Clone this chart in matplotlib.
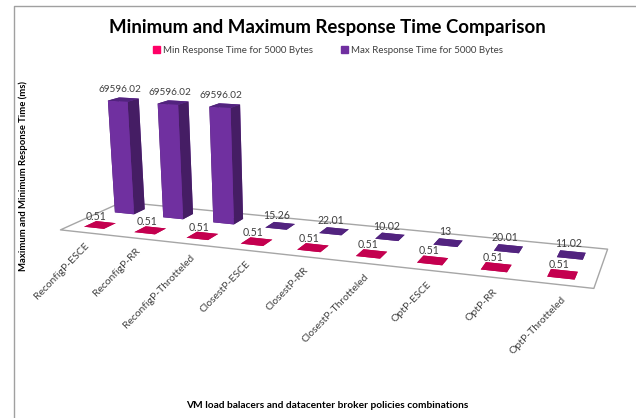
import matplotlib
matplotlib.use("Agg")
import numpy as np
import matplotlib.pyplot as plt
from matplotlib.lines import Line2D
from matplotlib.patches import Patch
from mpl_toolkits.mplot3d import proj3d
from mpl_toolkits.mplot3d.art3d import Poly3DCollection

plt.rcParams['font.family'] = ['Lato', 'DejaVu Sans']

# Response times per policy combination (ms)
policies = ["ReconfigP-ESCE", "ReconfigP-RR", "ReconfigP-Throtteled",
            "ClosestP-ESCE", "ClosestP-RR", "ClosestP-Throtteled",
            "OptP-ESCE", "OptP-RR", "OptP-Throtteled"]
min_time = [0.51, 0.51, 0.51, 0.51, 0.51, 0.51, 0.51, 0.51, 0.51]
max_time = [69596.02, 69596.02, 69596.02, 15.26, 22.01, 10.02, 13, 20.01, 11.02]
min_labels = ["0.51"] * 9
max_labels = ["69596.02", "69596.02", "69596.02", "15.26", "22.01", "10.02", "13", "20.01", "11.02"]

W, H = 636, 418
fig = plt.figure(figsize=(W / 100, H / 100), dpi=100)

# square 3D axes larger than the figure, so the view centre sits low on the page
side = 818.8
left, bottom = -92.1, -235.4
ax = fig.add_axes([left / W, bottom / H, side / W, side / H], projection='3d')
ax.set_proj_type('persp', focal_length=0.2316)
ax.view_init(elev=16.34, azim=-69.92, roll=0.11)
ax.set_xlim(4.07 - 6, 4.07 + 6, view_margin=0)
ax.set_ylim(0.529 - 3, 0.529 + 3, view_margin=0)
ax.set_zlim(3640 - 69596, 3640 + 69596, view_margin=0)
ax.set_box_aspect((12, 6.0825, 4.1158))
ax.set_axis_off()
ax.patch.set_alpha(0)
ax.computed_zorder = False

# floor of the chart
floor = Poly3DCollection([[(-0.5, -0.47, 0), (8.5, -0.47, 0), (8.5, 1.53, 0), (-0.5, 1.53, 0)]],
                         facecolor='white', edgecolor='#a6a6a6', linewidth=1, zorder=1)
ax.add_collection3d(floor)

x = np.arange(len(policies))
w = 0.40
d = 0.38
# face order in bar3d: bottom, top, front, back, left, right
pink = ['#c4004f', '#c4004f', '#e0005a', '#e0005a', '#90003c', '#90003c']
purple = ['#52237f', '#52237f', '#7030a0', '#7030a0', '#451d64', '#451d64']
ax.bar3d(x - w / 2, np.full(9, 1.0) - d / 2, 0, w, d, max_time, color=purple * 9, shade=False, zorder=2)
ax.bar3d(x - w / 2, np.full(9, 0.0) - d / 2, 0, w, d, min_time, color=pink * 9, shade=False, zorder=3)


def label_at(xd, yd, zd, s, **kw):
    # project a data point to the 2D plane and write the text there
    px, py, _ = proj3d.proj_transform(xd, yd, zd, ax.get_proj())
    ax.text2D(px, py, s, transform=ax.transData, color='#404040', zorder=5, **kw)


for i in range(9):
    label_at(x[i] - 0.06, 0, min_time[i] + 5000, min_labels[i], fontsize=7.6, ha='center', va='center')
    size = 7.2 if max_time[i] > 1000 else 7.6
    label_at(x[i] - 0.06, 1, max_time[i] + 6000, max_labels[i], fontsize=size, ha='center', va='center')
    label_at(x[i] + 0.12, -0.6, -5400, policies[i], fontsize=7.5, rotation=46, ha='right', va='center',
             rotation_mode='anchor')

fig.text(327 / W, 1 - 27 / H, "Minimum and Maximum Response Time Comparison", fontsize=13.4,
         fontweight='bold', ha='center', va='center', color='black')
fig.text(327 / W, 1 - 405 / H, "VM load balacers and datacenter broker policies combinations",
         fontsize=7.3, fontweight='bold', ha='center', va='center', color='black')
fig.text(23 / W, 1 - 176 / H, "Maximum and Minimum Response Time (ms)", fontsize=6.8,
         fontweight='bold', rotation=90, ha='center', va='center', color='black')
fig.legend(handles=[Patch(color='#ff0066', label="Min Response Time for 5000 Bytes"),
                    Patch(color='#7030a0', label="Max Response Time for 5000 Bytes")],
           loc='center', bbox_to_anchor=(328 / W, 1 - 50.5 / H), ncol=2, frameon=False, fontsize=7,
           labelcolor='#404040', handlelength=0.7, handleheight=0.7, handletextpad=0.3, columnspacing=2.9)

# outer frame
fig.add_artist(Line2D([13.5 / W, 13.5 / W, 1], [0, 1 - 5.5 / H, 1 - 5.5 / H], color='#a0a0a0', linewidth=1))

fig.savefig("out.png", dpi=100)
